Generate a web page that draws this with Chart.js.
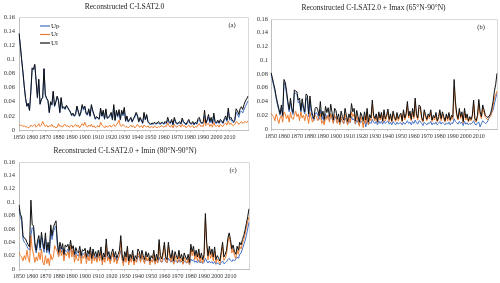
<!DOCTYPE html>
<html lang="en">
<head>
<meta charset="UTF-8">
<title>Reconstructed C-LSAT2.0</title>
<script src="https://cdn.jsdelivr.net/npm/chart.js"></script>
<style>
    body { margin: 0; padding: 0; background: #fff; }
    #wrap { position: relative; width: 500px; height: 283px; background: #fff; overflow: hidden; }
    .panel { position: absolute; }
</style>
</head>
<body>
<div id="wrap">
    <div class="panel" style="left:0;top:0;width:250px;height:145px"><canvas id="chartA"></canvas></div>
    <div class="panel" style="left:250px;top:0;width:250px;height:145px"><canvas id="chartB"></canvas></div>
    <div class="panel" style="left:0;top:140px;width:251px;height:143px"><canvas id="chartC"></canvas></div>
</div>
<script>
// years 1850 - 2024
const years = Array.from({ length: 175 }, (_, i) => 1850 + i);
const lastTickYear = 2010;
const seriesNames = ['Up', 'Ur', 'Ul'];

// (a) Reconstructed C-LSAT2.0
const upA = [
    0.136, 0.119, 0.099, 0.081, 0.061, 0.044, 0.033, 0.037, 0.027, 0.054,
    0.087, 0.085, 0.092, 0.069, 0.045, 0.071, 0.036, 0.043, 0.045, 0.086,
    0.049, 0.044, 0.041, 0.024, 0.039, 0.035, 0.054, 0.033, 0.039, 0.047,
    0.041, 0.024, 0.045, 0.030, 0.032, 0.029, 0.034, 0.031, 0.028, 0.025,
    0.020, 0.022, 0.019, 0.021, 0.033, 0.025, 0.019, 0.024, 0.034, 0.028,
    0.032, 0.022, 0.021, 0.028, 0.019, 0.034, 0.026, 0.021, 0.015, 0.018,
    0.016, 0.015, 0.029, 0.019, 0.026, 0.015, 0.028, 0.016, 0.017, 0.019,
    0.023, 0.014, 0.033, 0.013, 0.026, 0.018, 0.026, 0.014, 0.026, 0.020,
    0.030, 0.012, 0.018, 0.011, 0.014, 0.016, 0.011, 0.015, 0.018, 0.023,
    0.019, 0.011, 0.016, 0.013, 0.009, 0.023, 0.014, 0.020, 0.011, 0.009,
    0.007, 0.009, 0.008, 0.010, 0.008, 0.009, 0.010, 0.008, 0.009, 0.010,
    0.008, 0.010, 0.009, 0.014, 0.010, 0.009, 0.013, 0.007, 0.015, 0.010,
    0.008, 0.009, 0.010, 0.008, 0.014, 0.010, 0.009, 0.007, 0.010, 0.013,
    0.009, 0.008, 0.010, 0.007, 0.010, 0.008, 0.013, 0.015, 0.010, 0.009,
    0.010, 0.020, 0.009, 0.013, 0.018, 0.010, 0.015, 0.009, 0.020, 0.010,
    0.009, 0.012, 0.009, 0.013, 0.011, 0.009, 0.014, 0.017, 0.012, 0.026,
    0.014, 0.015, 0.012, 0.010, 0.013, 0.025, 0.022, 0.018, 0.025, 0.027,
    0.024, 0.029, 0.033, 0.037, 0.041
];
const urA = [
    0.008, 0.006, 0.007, 0.005, 0.006, 0.004, 0.005, 0.003, 0.004, 0.007,
    0.005, 0.006, 0.008, 0.004, 0.006, 0.009, 0.005, 0.007, 0.012, 0.008,
    0.005, 0.007, 0.004, 0.006, 0.005, 0.008, 0.004, 0.005, 0.003, 0.004,
    0.009, 0.005, 0.006, 0.004, 0.007, 0.008, 0.005, 0.006, 0.004, 0.005,
    0.007, 0.004, 0.006, 0.008, 0.005, 0.007, 0.003, 0.006, 0.009, 0.006,
    0.011, 0.006, 0.004, 0.007, 0.005, 0.008, 0.004, 0.006, 0.003, 0.005,
    0.006, 0.004, 0.011, 0.007, 0.005, 0.003, 0.006, 0.004, 0.005, 0.007,
    0.004, 0.006, 0.008, 0.005, 0.007, 0.010, 0.014, 0.006, 0.005, 0.008,
    0.006, 0.004, 0.005, 0.003, 0.005, 0.007, 0.004, 0.006, 0.003, 0.005,
    0.008, 0.005, 0.004, 0.006, 0.003, 0.007, 0.005, 0.004, 0.006, 0.003,
    0.004, 0.005, 0.003, 0.006, 0.004, 0.003, 0.005, 0.004, 0.006, 0.005,
    0.004, 0.006, 0.005, 0.010, 0.006, 0.004, 0.007, 0.003, 0.008, 0.005,
    0.004, 0.006, 0.007, 0.004, 0.008, 0.005, 0.006, 0.003, 0.005, 0.007,
    0.004, 0.005, 0.006, 0.003, 0.005, 0.004, 0.007, 0.009, 0.005, 0.006,
    0.005, 0.015, 0.006, 0.008, 0.010, 0.005, 0.008, 0.004, 0.011, 0.006,
    0.005, 0.007, 0.004, 0.008, 0.006, 0.005, 0.008, 0.010, 0.007, 0.013,
    0.008, 0.010, 0.007, 0.006, 0.008, 0.012, 0.011, 0.008, 0.010, 0.012,
    0.009, 0.011, 0.012, 0.010, 0.013
];
const ulA = [
    0.137, 0.120, 0.100, 0.082, 0.062, 0.045, 0.034, 0.038, 0.028, 0.055,
    0.088, 0.086, 0.093, 0.070, 0.046, 0.072, 0.037, 0.044, 0.046, 0.087,
    0.050, 0.045, 0.042, 0.025, 0.040, 0.036, 0.055, 0.034, 0.040, 0.048,
    0.042, 0.025, 0.046, 0.031, 0.033, 0.030, 0.035, 0.032, 0.029, 0.026,
    0.021, 0.024, 0.020, 0.023, 0.034, 0.027, 0.020, 0.026, 0.036, 0.030,
    0.034, 0.024, 0.022, 0.030, 0.020, 0.036, 0.028, 0.022, 0.016, 0.019,
    0.017, 0.016, 0.031, 0.020, 0.028, 0.016, 0.030, 0.017, 0.018, 0.021,
    0.025, 0.015, 0.036, 0.014, 0.028, 0.020, 0.029, 0.015, 0.028, 0.022,
    0.032, 0.013, 0.020, 0.012, 0.015, 0.018, 0.012, 0.016, 0.020, 0.025,
    0.021, 0.012, 0.018, 0.014, 0.010, 0.025, 0.015, 0.022, 0.012, 0.010,
    0.008, 0.010, 0.009, 0.011, 0.009, 0.010, 0.012, 0.009, 0.010, 0.011,
    0.009, 0.012, 0.010, 0.018, 0.012, 0.010, 0.015, 0.008, 0.018, 0.012,
    0.009, 0.010, 0.012, 0.009, 0.017, 0.012, 0.010, 0.008, 0.012, 0.015,
    0.010, 0.009, 0.012, 0.008, 0.011, 0.009, 0.016, 0.018, 0.012, 0.010,
    0.012, 0.028, 0.010, 0.015, 0.022, 0.012, 0.018, 0.010, 0.024, 0.012,
    0.010, 0.014, 0.010, 0.015, 0.013, 0.010, 0.016, 0.020, 0.014, 0.031,
    0.016, 0.018, 0.014, 0.012, 0.015, 0.030, 0.027, 0.022, 0.030, 0.033,
    0.029, 0.036, 0.041, 0.044, 0.048
];

// (b) Reconstructed C-LSAT2.0 + Imax (65°N-90°N)
const upB = [
    0.080, 0.072, 0.063, 0.055, 0.044, 0.035, 0.027, 0.020, 0.030, 0.018,
    0.068, 0.064, 0.050, 0.036, 0.025, 0.040, 0.026, 0.021, 0.053, 0.052,
    0.050, 0.038, 0.040, 0.024, 0.038, 0.028, 0.022, 0.045, 0.042, 0.018,
    0.040, 0.024, 0.016, 0.012, 0.022, 0.024, 0.020, 0.014, 0.028, 0.013,
    0.018, 0.010, 0.022, 0.016, 0.020, 0.012, 0.022, 0.015, 0.009, 0.018,
    0.016, 0.009, 0.013, 0.007, 0.015, 0.011, 0.008, 0.016, 0.012, 0.007,
    0.012, 0.009, 0.018, 0.013, 0.015, 0.007, 0.013, 0.010, 0.006, 0.012,
    0.010, 0.007, 0.012, 0.003, 0.013, 0.006, 0.010, 0.008, 0.014, 0.010,
    0.008, 0.011, 0.006, 0.012, 0.008, 0.011, 0.007, 0.012, 0.008, 0.010,
    0.012, 0.007, 0.010, 0.006, 0.011, 0.008, 0.006, 0.010, 0.007, 0.009,
    0.009, 0.006, 0.010, 0.007, 0.009, 0.012, 0.008, 0.010, 0.006, 0.011,
    0.008, 0.013, 0.009, 0.007, 0.012, 0.011, 0.008, 0.005, 0.010, 0.008,
    0.006, 0.009, 0.008, 0.011, 0.006, 0.009, 0.007, 0.010, 0.006, 0.008,
    0.011, 0.007, 0.010, 0.008, 0.006, 0.009, 0.007, 0.010, 0.006, 0.009,
    0.008, 0.015, 0.011, 0.009, 0.007, 0.011, 0.008, 0.010, 0.005, 0.011,
    0.007, 0.009, 0.006, 0.008, 0.007, 0.009, 0.012, 0.007, 0.006, 0.009,
    0.010, 0.003, 0.008, 0.012, 0.010, 0.008, 0.009, 0.012, 0.018, 0.020,
    0.024, 0.028, 0.036, 0.045, 0.052
];
const urB = [
    0.023, 0.020, 0.018, 0.012, 0.022, 0.015, 0.008, 0.016, 0.020, 0.010,
    0.025, 0.022, 0.015, 0.020, 0.010, 0.024, 0.016, 0.014, 0.020, 0.026,
    0.018, 0.022, 0.012, 0.025, 0.016, 0.020, 0.012, 0.022, 0.018, 0.008,
    0.024, 0.016, 0.010, 0.015, 0.020, 0.018, 0.012, 0.015, 0.022, 0.008,
    0.012, 0.006, 0.018, 0.014, 0.020, 0.010, 0.022, 0.016, 0.008, 0.020,
    0.018, 0.008, 0.015, 0.006, 0.018, 0.012, 0.008, 0.022, 0.014, 0.006,
    0.016, 0.010, 0.025, 0.018, 0.022, 0.008, 0.020, 0.012, 0.004, 0.018,
    0.014, 0.002, 0.018, 0.008, 0.024, 0.006, 0.016, 0.012, 0.035, 0.016,
    0.012, 0.018, 0.009, 0.021, 0.013, 0.020, 0.010, 0.024, 0.012, 0.017,
    0.025, 0.011, 0.019, 0.010, 0.022, 0.015, 0.011, 0.020, 0.012, 0.017,
    0.020, 0.010, 0.024, 0.013, 0.019, 0.035, 0.016, 0.022, 0.012, 0.026,
    0.015, 0.040, 0.019, 0.013, 0.031, 0.030, 0.014, 0.010, 0.024, 0.017,
    0.012, 0.019, 0.015, 0.024, 0.011, 0.017, 0.013, 0.021, 0.010, 0.015,
    0.024, 0.012, 0.021, 0.015, 0.010, 0.019, 0.012, 0.020, 0.011, 0.017,
    0.014, 0.062, 0.034, 0.019, 0.013, 0.026, 0.015, 0.021, 0.009, 0.026,
    0.013, 0.019, 0.010, 0.015, 0.012, 0.017, 0.036, 0.012, 0.010, 0.017,
    0.037, 0.021, 0.015, 0.030, 0.024, 0.017, 0.015, 0.014, 0.016, 0.018,
    0.025, 0.034, 0.045, 0.050, 0.055
];
const ulB = [
    0.082, 0.075, 0.066, 0.058, 0.047, 0.038, 0.030, 0.022, 0.035, 0.020,
    0.072, 0.068, 0.055, 0.040, 0.028, 0.045, 0.030, 0.024, 0.057, 0.055,
    0.054, 0.042, 0.045, 0.027, 0.044, 0.032, 0.025, 0.051, 0.049, 0.022,
    0.048, 0.030, 0.020, 0.015, 0.030, 0.032, 0.028, 0.019, 0.040, 0.018,
    0.026, 0.014, 0.033, 0.024, 0.031, 0.018, 0.036, 0.024, 0.013, 0.030,
    0.027, 0.014, 0.022, 0.010, 0.026, 0.018, 0.013, 0.030, 0.020, 0.011,
    0.022, 0.016, 0.037, 0.025, 0.030, 0.012, 0.027, 0.018, 0.010, 0.024,
    0.019, 0.012, 0.025, 0.013, 0.030, 0.010, 0.021, 0.016, 0.042, 0.020,
    0.015, 0.022, 0.011, 0.025, 0.016, 0.024, 0.012, 0.028, 0.015, 0.020,
    0.029, 0.014, 0.022, 0.012, 0.026, 0.018, 0.013, 0.024, 0.015, 0.020,
    0.023, 0.012, 0.028, 0.016, 0.022, 0.040, 0.019, 0.026, 0.014, 0.030,
    0.018, 0.045, 0.022, 0.016, 0.035, 0.033, 0.017, 0.012, 0.028, 0.020,
    0.014, 0.022, 0.018, 0.028, 0.013, 0.020, 0.016, 0.024, 0.012, 0.018,
    0.028, 0.015, 0.025, 0.018, 0.012, 0.022, 0.015, 0.024, 0.013, 0.020,
    0.017, 0.072, 0.040, 0.022, 0.015, 0.030, 0.018, 0.025, 0.011, 0.030,
    0.016, 0.022, 0.012, 0.018, 0.014, 0.020, 0.042, 0.015, 0.012, 0.020,
    0.043, 0.025, 0.018, 0.035, 0.028, 0.020, 0.018, 0.017, 0.019, 0.022,
    0.030, 0.040, 0.055, 0.065, 0.081
];

// (c) Reconstructed C-LSAT2.0 + Imin (80°N-90°N)
const upC = [
    0.090, 0.078, 0.072, 0.045, 0.040, 0.038, 0.034, 0.030, 0.028, 0.050,
    0.062, 0.060, 0.034, 0.024, 0.036, 0.044, 0.028, 0.048, 0.035, 0.025,
    0.046, 0.024, 0.034, 0.022, 0.058, 0.044, 0.055, 0.062, 0.064, 0.035,
    0.020, 0.033, 0.025, 0.032, 0.018, 0.028, 0.026, 0.030, 0.022, 0.034,
    0.024, 0.028, 0.018, 0.026, 0.021, 0.019, 0.027, 0.016, 0.023, 0.022,
    0.025, 0.015, 0.022, 0.018, 0.026, 0.013, 0.024, 0.016, 0.020, 0.014,
    0.022, 0.016, 0.025, 0.011, 0.019, 0.014, 0.030, 0.015, 0.020, 0.012,
    0.018, 0.022, 0.014, 0.019, 0.012, 0.016, 0.020, 0.028, 0.016, 0.009,
    0.018, 0.013, 0.022, 0.009, 0.016, 0.012, 0.019, 0.009, 0.014, 0.011,
    0.020, 0.017, 0.012, 0.018, 0.014, 0.010, 0.017, 0.012, 0.015, 0.009,
    0.013, 0.011, 0.016, 0.009, 0.013, 0.010, 0.018, 0.012, 0.010, 0.014,
    0.016, 0.011, 0.009, 0.016, 0.013, 0.010, 0.014, 0.008, 0.013, 0.011,
    0.009, 0.014, 0.010, 0.012, 0.008, 0.012, 0.010, 0.009, 0.012, 0.007,
    0.015, 0.012, 0.014, 0.010, 0.012, 0.009, 0.013, 0.009, 0.011, 0.008,
    0.010, 0.016, 0.012, 0.009, 0.012, 0.009, 0.011, 0.008, 0.011, 0.007,
    0.009, 0.008, 0.006, 0.010, 0.012, 0.008, 0.009, 0.011, 0.014, 0.016,
    0.013, 0.011, 0.014, 0.012, 0.015, 0.018, 0.016, 0.022, 0.024, 0.030,
    0.036, 0.042, 0.050, 0.060, 0.070
];
const urC = [
    0.025, 0.020, 0.018, 0.012, 0.020, 0.014, 0.028, 0.016, 0.010, 0.050,
    0.030, 0.022, 0.010, 0.018, 0.012, 0.025, 0.014, 0.030, 0.010, 0.006,
    0.020, 0.008, 0.016, 0.005, 0.022, 0.014, 0.018, 0.035, 0.030, 0.026,
    0.018, 0.030, 0.020, 0.028, 0.012, 0.024, 0.020, 0.026, 0.016, 0.036,
    0.018, 0.030, 0.010, 0.022, 0.014, 0.012, 0.026, 0.008, 0.020, 0.016,
    0.024, 0.008, 0.020, 0.012, 0.026, 0.008, 0.022, 0.012, 0.018, 0.010,
    0.022, 0.012, 0.026, 0.006, 0.018, 0.010, 0.036, 0.012, 0.018, 0.008,
    0.016, 0.024, 0.010, 0.018, 0.008, 0.014, 0.020, 0.042, 0.014, 0.005,
    0.020, 0.010, 0.028, 0.006, 0.016, 0.010, 0.022, 0.006, 0.014, 0.010,
    0.024, 0.020, 0.010, 0.022, 0.014, 0.008, 0.020, 0.012, 0.018, 0.006,
    0.014, 0.010, 0.022, 0.007, 0.016, 0.009, 0.038, 0.014, 0.010, 0.020,
    0.034, 0.012, 0.009, 0.034, 0.018, 0.011, 0.022, 0.007, 0.020, 0.014,
    0.010, 0.022, 0.011, 0.016, 0.007, 0.018, 0.012, 0.009, 0.016, 0.006,
    0.031, 0.020, 0.028, 0.014, 0.022, 0.012, 0.024, 0.010, 0.018, 0.009,
    0.016, 0.075, 0.034, 0.014, 0.028, 0.016, 0.024, 0.012, 0.027, 0.009,
    0.015, 0.011, 0.008, 0.020, 0.034, 0.013, 0.016, 0.022, 0.040, 0.048,
    0.038, 0.024, 0.030, 0.020, 0.016, 0.028, 0.022, 0.034, 0.030, 0.038,
    0.044, 0.052, 0.062, 0.070, 0.078
];
const ulC = [
    0.096, 0.082, 0.078, 0.050, 0.046, 0.045, 0.040, 0.036, 0.033, 0.103,
    0.066, 0.065, 0.040, 0.028, 0.042, 0.050, 0.032, 0.055, 0.040, 0.030,
    0.054, 0.028, 0.040, 0.026, 0.066, 0.050, 0.062, 0.068, 0.072, 0.042,
    0.025, 0.040, 0.030, 0.038, 0.022, 0.036, 0.033, 0.037, 0.028, 0.043,
    0.030, 0.035, 0.022, 0.032, 0.026, 0.024, 0.034, 0.020, 0.029, 0.027,
    0.031, 0.018, 0.028, 0.022, 0.033, 0.016, 0.030, 0.020, 0.026, 0.018,
    0.028, 0.020, 0.033, 0.014, 0.024, 0.018, 0.045, 0.020, 0.026, 0.015,
    0.024, 0.030, 0.018, 0.026, 0.016, 0.022, 0.028, 0.050, 0.022, 0.012,
    0.026, 0.018, 0.034, 0.012, 0.022, 0.016, 0.028, 0.012, 0.020, 0.015,
    0.030, 0.026, 0.016, 0.028, 0.020, 0.014, 0.026, 0.018, 0.024, 0.012,
    0.020, 0.016, 0.028, 0.012, 0.022, 0.014, 0.044, 0.020, 0.015, 0.026,
    0.040, 0.018, 0.014, 0.040, 0.024, 0.016, 0.028, 0.012, 0.026, 0.020,
    0.015, 0.028, 0.016, 0.022, 0.012, 0.024, 0.018, 0.014, 0.022, 0.010,
    0.037, 0.026, 0.034, 0.020, 0.028, 0.018, 0.030, 0.016, 0.024, 0.014,
    0.022, 0.083, 0.040, 0.020, 0.034, 0.022, 0.030, 0.018, 0.033, 0.014,
    0.020, 0.016, 0.012, 0.026, 0.040, 0.018, 0.022, 0.028, 0.046, 0.054,
    0.044, 0.030, 0.036, 0.026, 0.022, 0.034, 0.028, 0.040, 0.036, 0.044,
    0.050, 0.058, 0.068, 0.078, 0.090
];

const colors = { Up: '#4472c4', Ur: '#ed7d31', Ul: '#111111' };
const serif = "'Liberation Serif', 'DejaVu Serif', serif";
const isTickYear = i => years[i] % 10 === 0 && years[i] <= lastTickYear;

// frame, panel tag and (optionally) the in-plot legend
const panelMarks = {
    id: 'panelMarks',
    beforeDatasetsDraw(chart) {
        const a = chart.chartArea, ctx = chart.ctx;
        ctx.save();
        ctx.strokeStyle = '#d9d9d9';
        ctx.lineWidth = 1;
        ctx.beginPath();
        ctx.moveTo(a.left, a.top + 0.5);
        ctx.lineTo(a.right + 0.5, a.top + 0.5);
        ctx.lineTo(a.right + 0.5, a.bottom);
        ctx.stroke();
        ctx.restore();
    },
    afterDraw(chart, args, opts) {
        const a = chart.chartArea, ctx = chart.ctx;
        ctx.save();
        ctx.fillStyle = '#222';
        ctx.font = '6.5px ' + serif;
        ctx.textAlign = 'center';
        ctx.textBaseline = 'middle';
        ctx.fillText(opts.tag, a.right - 16, a.top + 8);
        if (opts.legend) {
            ctx.textAlign = 'left';
            ctx.font = '7px ' + serif;
            seriesNames.forEach((name, i) => {
                const y = a.top + 9 + i * 8.5;
                ctx.strokeStyle = colors[name];
                ctx.lineWidth = 1.2;
                ctx.beginPath();
                ctx.moveTo(a.left + 21, y);
                ctx.lineTo(a.left + 31, y);
                ctx.stroke();
                ctx.fillText(name, a.left + 32, y);
            });
        }
        ctx.restore();
    }
};

function makeChart(id, title, up, ur, ul, cfg) {
    const ds = (label, data, order) => ({
        label: label,
        data: data,
        borderColor: colors[label],
        borderWidth: 1,
        pointRadius: 0,
        tension: 0,
        fill: false,
        order: order
    });
    return new Chart(document.getElementById(id), {
        type: 'line',
        data: {
            labels: years,
            datasets: [ds('Up', up, 2), ds('Ur', ur, 1), ds('Ul', ul, 0)]
        },
        options: {
            responsive: true,
            maintainAspectRatio: false,
            animation: false,
            layout: { padding: { left: 0, right: cfg.right, top: 0, bottom: 0 } },
            plugins: {
                legend: { display: false },
                tooltip: { enabled: false },
                title: {
                    display: true,
                    text: title,
                    color: '#222',
                    font: { family: serif, size: 7.5, weight: 'normal' },
                    padding: { top: cfg.titleTop, bottom: cfg.titleBottom }
                },
                panelMarks: { tag: cfg.tag, legend: cfg.legend }
            },
            scales: {
                x: {
                    type: 'category',
                    offset: false,
                    afterFit: s => { s.height = cfg.xHeight; },
                    grid: {
                        display: true,
                        drawOnChartArea: false,
                        drawTicks: true,
                        tickLength: 2,
                        color: c => (isTickYear(c.index) ? '#bfbfbf' : 'rgba(0,0,0,0)')
                    },
                    border: { display: true, color: '#bfbfbf', width: 1 },
                    ticks: {
                        autoSkip: false,
                        maxRotation: 0,
                        minRotation: 0,
                        padding: 2,
                        color: '#333',
                        font: { family: serif, size: 6 },
                        callback: (v, i) => (isTickYear(i) ? String(years[i]) : '')
                    }
                },
                y: {
                    min: 0,
                    max: 0.16,
                    afterFit: s => { s.width = cfg.yWidth; },
                    grid: { display: false, drawTicks: false },
                    border: { display: true, color: '#bfbfbf', width: 1 },
                    ticks: {
                        stepSize: 0.02,
                        padding: cfg.yPad,
                        color: '#333',
                        font: { family: serif, size: 6.5 },
                        callback: v => String(Number(v.toFixed(2)))
                    }
                }
            }
        },
        plugins: [panelMarks]
    });
}

makeChart('chartA', 'Reconstructed C-LSAT2.0', upA, urA, ulA,
    { tag: '(a)', legend: true, right: 1, titleTop: 3, titleBottom: 5, xHeight: 15, yWidth: 19, yPad: 4 });
makeChart('chartB', 'Reconstructed C-LSAT2.0 + Imax (65°N-90°N)', upB, urB, ulB,
    { tag: '(b)', legend: false, right: 3, titleTop: 4, titleBottom: 6, xHeight: 16, yWidth: 21, yPad: 3 });
makeChart('chartC', 'Reconstructed C-LSAT2.0 + Imin (80°N-90°N)', upC, urC, ulC,
    { tag: '(c)', legend: false, right: 1, titleTop: 6.5, titleBottom: 6.5, xHeight: 14, yWidth: 19, yPad: 4 });
</script>
</body>
</html>
